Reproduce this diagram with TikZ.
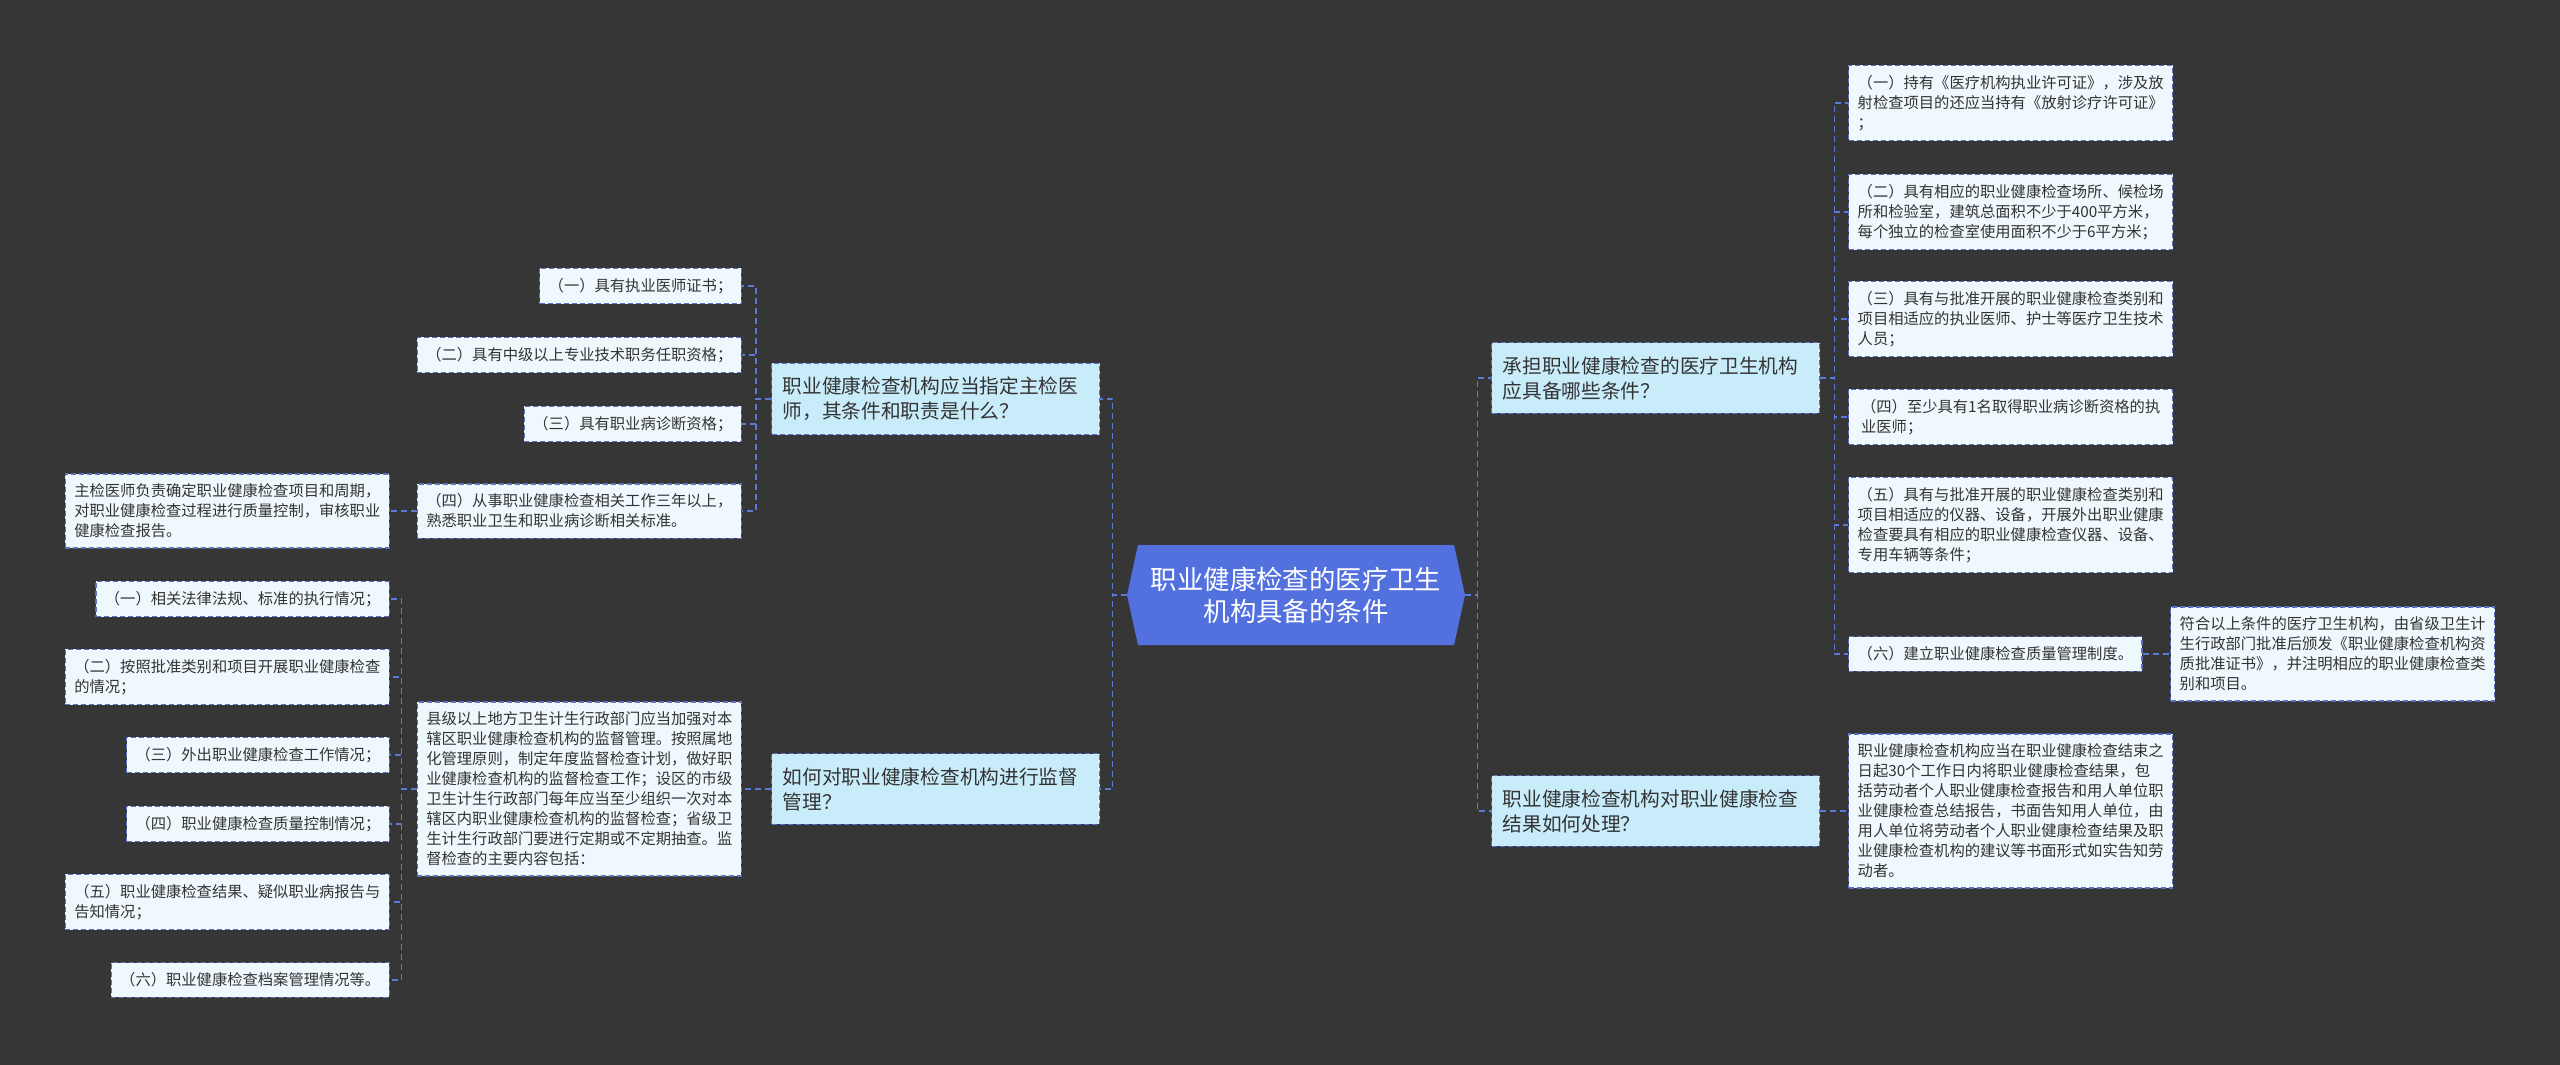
\documentclass[tikz,border=0pt]{standalone}
\usepackage{fontspec}
\setmainfont{Noto Sans CJK SC}

\definecolor{bgdark}{HTML}{363636}
\definecolor{rootblue}{HTML}{5371DE}
\definecolor{branchfill}{HTML}{C9ECFB}
\definecolor{leaffill}{HTML}{EFF9FD}
\definecolor{boxline}{HTML}{5A6FC8}
\definecolor{linkblue}{HTML}{5B7BD8}
\definecolor{textdark}{HTML}{333333}

\tikzset{
  link/.style={draw=linkblue, line width=0.8pt, dash pattern=on 3pt off 2pt},
  boxbase/.style={draw=boxline, line width=0.7pt, dash pattern=on 2.5pt off 1.5pt, text=textdark, align=left},
  branchbox/.style={boxbase, fill=branchfill, font=\fontsize{9.85}{12.5}\selectfont, text width=153pt, inner xsep=5.5pt, inner ysep=6.8pt},
  leafbox/.style={boxbase, fill=leaffill, font=\fontsize{7.65}{10}\selectfont, inner xsep=4.5pt, inner ysep=5pt},
  rootbox/.style={text=white, font=\fontsize{13.2}{16}\selectfont, align=center, minimum width=169pt, minimum height=50pt}
}

\begin{document}
\begin{tikzpicture}[x=0.5pt,y=-0.5pt]
      \fill[bgdark](0,0)rectangle(2560,1065);
      \useasboundingbox(0,0)rectangle(2560,1065);

      % centre
      \fill[rootblue](1127,595)--(1138,545)--(1454,545)--(1465,595)--(1454,645)--(1138,645)--cycle;
      \node[rootbox] (root) at(1296,595) {职业健康检查的医疗卫生\\机构具备的条件};

      % left side
      \node[branchbox, anchor=west] (brA) at(771,399) {职业健康检查机构应当指定主检医\\师，其条件和职责是什么？};
      \node[branchbox, anchor=west] (brB) at(771,789) {如何对职业健康检查机构进行监督\\管理？};

      \node[leafbox, anchor=east] (a1) at(742,286) {（一）具有执业医师证书；};
      \node[leafbox, anchor=east] (a2) at(742,355) {（二）具有中级以上专业技术职务任职资格；};
      \node[leafbox, anchor=east] (a3) at(742,424) {（三）具有职业病诊断资格；};
      \node[leafbox, anchor=east] (a4) at(742,511) {（四）从事职业健康检查相关工作三年以上，\\熟悉职业卫生和职业病诊断相关标准。};
      \node[leafbox, anchor=east] (a4note) at(390,511) {主检医师负责确定职业健康检查项目和周期，\\对职业健康检查过程进行质量控制，审核职业\\健康检查报告。};

      \node[leafbox, anchor=east] (bb) at(742,789) {县级以上地方卫生计生行政部门应当加强对本\\辖区职业健康检查机构的监督管理。按照属地\\化管理原则，制定年度监督检查计划，做好职\\业健康检查机构的监督检查工作；设区的市级\\卫生计生行政部门每年应当至少组织一次对本\\辖区内职业健康检查机构的监督检查；省级卫\\生计生行政部门要进行定期或不定期抽查。监\\督检查的主要内容包括：};
      \node[leafbox, anchor=east] (b1) at(390,599) {（一）相关法律法规、标准的执行情况；};
      \node[leafbox, anchor=east] (b2) at(390,677) {（二）按照批准类别和项目开展职业健康检查\\的情况；};
      \node[leafbox, anchor=east] (b3) at(390,755) {（三）外出职业健康检查工作情况；};
      \node[leafbox, anchor=east] (b4) at(390,824) {（四）职业健康检查质量控制情况；};
      \node[leafbox, anchor=east] (b5) at(390,902) {（五）职业健康检查结果、疑似职业病报告与\\告知情况；};
      \node[leafbox, anchor=east] (b6) at(390,980) {（六）职业健康检查档案管理情况等。};

      % right side
      \node[branchbox, anchor=west] (brC) at(1491,378) {承担职业健康检查的医疗卫生机构\\应具备哪些条件？};
      \node[branchbox, anchor=west] (brD) at(1491,811) {职业健康检查机构对职业健康检查\\结果如何处理？};

      \node[leafbox, anchor=west] (c1) at(1848,103) {（一）持有《医疗机构执业许可证》，涉及放\\射检查项目的还应当持有《放射诊疗许可证》\\；};
      \node[leafbox, anchor=west] (c2) at(1848,212) {（二）具有相应的职业健康检查场所、候检场\\所和检验室，建筑总面积不少于400平方米，\\每个独立的检查室使用面积不少于6平方米；};
      \node[leafbox, anchor=west] (c3) at(1848,319) {（三）具有与批准开展的职业健康检查类别和\\项目相适应的执业医师、护士等医疗卫生技术\\人员；};
      \node[leafbox, anchor=west, minimum width=162pt] (c4) at(1848,417) {（四）至少具有1名取得职业病诊断资格的执\\业医师；};
      \node[leafbox, anchor=west] (c5) at(1848,525) {（五）具有与批准开展的职业健康检查类别和\\项目相适应的仪器、设备，开展外出职业健康\\检查要具有相应的职业健康检查仪器、设备、\\专用车辆等条件；};
      \node[leafbox, anchor=west] (c6) at(1848,654) {（六）建立职业健康检查质量管理制度。};
      \node[leafbox, anchor=west] (c6note) at(2170,654) {符合以上条件的医疗卫生机构，由省级卫生计\\生行政部门批准后颁发《职业健康检查机构资\\质批准证书》，并注明相应的职业健康检查类\\别和项目。};

      \node[leafbox, anchor=west] (dd) at(1848,811) {职业健康检查机构应当在职业健康检查结束之\\日起30个工作日内将职业健康检查结果，包\\括劳动者个人职业健康检查报告和用人单位职\\业健康检查总结报告，书面告知用人单位，由\\用人单位将劳动者个人职业健康检查结果及职\\业健康检查机构的建议等书面形式如实告知劳\\动者。};

      % links
      \draw[link](root.west)--++(-14,0)|-(brA.east);
      \draw[link](root.west)--++(-14,0)|-(brB.east);
      \draw[link](root.east)--++(12,0)|-(brC.west);
      \draw[link](root.east)--++(12,0)|-(brD.west);

      \draw[link](brA.west)--++(-15,0)|-(a1.east);
      \draw[link](brA.west)--++(-15,0)|-(a2.east);
      \draw[link](brA.west)--++(-15,0)|-(a3.east);
      \draw[link](brA.west)--++(-15,0)|-(a4.east);
      \draw[link](a4.west)--(a4note.east);

      \draw[link](brB.west)--(bb.east);
      \draw[link](bb.west)--++(-15,0)|-(b1.east);
      \draw[link](bb.west)--++(-15,0)|-(b2.east);
      \draw[link](bb.west)--++(-15,0)|-(b3.east);
      \draw[link](bb.west)--++(-15,0)|-(b4.east);
      \draw[link](bb.west)--++(-15,0)|-(b5.east);
      \draw[link](bb.west)--++(-15,0)|-(b6.east);

      \draw[link](brC.east)--++(14,0)|-(c1.west);
      \draw[link](brC.east)--++(14,0)|-(c2.west);
      \draw[link](brC.east)--++(14,0)|-(c3.west);
      \draw[link](brC.east)--++(14,0)|-(c4.west);
      \draw[link](brC.east)--++(14,0)|-(c5.west);
      \draw[link](brC.east)--++(14,0)|-(c6.west);
      \draw[link](c6.east)--(c6note.west);

      \draw[link](brD.east)--(dd.west);
    \end{tikzpicture}
\end{document}
